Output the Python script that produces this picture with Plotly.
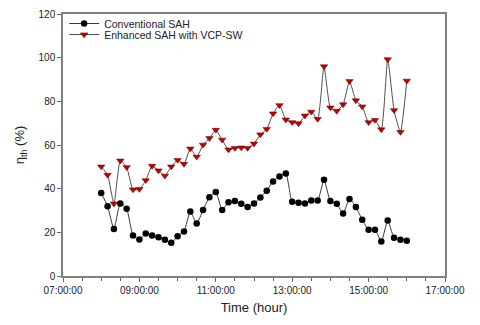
import plotly.graph_objects as go

day = "2021-06-01 "
times = [
    "08:00", "08:10", "08:20", "08:30", "08:40", "08:50",
    "09:00", "09:10", "09:20", "09:30", "09:40", "09:50",
    "10:00", "10:10", "10:20", "10:30", "10:40", "10:50",
    "11:00", "11:10", "11:20", "11:30", "11:40", "11:50",
    "12:00", "12:10", "12:20", "12:30", "12:40", "12:50",
    "13:00", "13:10", "13:20", "13:30", "13:40", "13:50",
    "14:00", "14:10", "14:20", "14:30", "14:40", "14:50",
    "15:00", "15:10", "15:20", "15:30", "15:40", "15:50",
    "16:00",
]
conventional = [
    38.0, 32.0, 21.5, 33.2, 30.8, 18.5,
    16.7, 19.5, 18.5, 17.7, 16.6, 15.2,
    18.2, 20.4, 29.5, 24.0, 30.2, 36.1,
    38.5, 30.2, 33.8, 34.3, 33.1, 31.6,
    33.2, 35.9, 39.1, 43.3, 45.6, 47.0,
    34.0, 33.5, 33.2, 34.6, 34.6, 44.1,
    34.3, 33.1, 28.6, 35.3, 31.6, 25.8,
    21.2, 21.2, 15.8, 25.4, 17.5, 16.6,
    16.2,
]
enhanced = [
    50.1, 46.3, 33.1, 52.8, 49.8, 39.6,
    39.8, 43.8, 50.4, 48.3, 45.9, 50.1,
    53.1, 51.3, 58.3, 54.6, 60.1, 63.1,
    66.9, 62.4, 57.9, 58.6, 58.8, 58.6,
    60.6, 64.8, 67.3, 74.4, 78.2, 71.6,
    70.4, 69.9, 73.4, 75.2, 71.9, 96.0,
    77.1, 75.6, 78.6, 89.2, 80.4, 77.6,
    70.4, 71.4, 67.1, 99.2, 75.9, 65.9,
    89.4,
]
x = [day + t for t in times]

fig = go.Figure()
fig.add_trace(go.Scatter(
    x=x, y=conventional, name="Conventional SAH", mode="lines+markers",
    line=dict(color="#3a3a3a", width=1, shape="spline", smoothing=0.5),
    marker=dict(symbol="circle", size=6.5, color="black"),
    legend="legend",
))
fig.add_trace(go.Scatter(
    x=x, y=enhanced, name="Enhanced SAH with VCP-SW", mode="lines+markers",
    line=dict(color="#505050", width=1, shape="spline", smoothing=0.5),
    marker=dict(symbol="triangle-down", size=6.5, color="#c00000",
                line=dict(color="#600000", width=0.5)),
    legend="legend2",
))

leg = dict(xanchor="left", yanchor="top", bgcolor="rgba(0,0,0,0)",
           font=dict(size=10.5), itemwidth=30)
fig.update_layout(
    width=480, height=325,
    margin=dict(l=63, r=35, t=9, b=49),
    paper_bgcolor="white", plot_bgcolor="white",
    font=dict(family="Liberation Sans, Arial, sans-serif", size=10, color="#222"),
    showlegend=True,
    legend=dict(leg, x=0.003, y=1.019),
    legend2=dict(leg, x=0.003, y=0.977),
)
fig.update_xaxes(
    range=[day + "07:00", day + "17:00"],
    tickformat="%H:%M:%S", dtick=7200000, tick0=day + "07:00",
    ticks="outside", ticklen=4, tickcolor="#666",
    minor=dict(dtick=1800000, ticks="outside", ticklen=3, tickcolor="#666"),
    showline=True, linecolor="#808080", linewidth=1.5, mirror=True,
    showgrid=False, zeroline=False, automargin=False,
    title=dict(text="Time (hour)", font=dict(size=13), standoff=8),
)
fig.update_yaxes(
    range=[0, 120], dtick=20,
    ticks="outside", ticklen=4, tickcolor="#666",
    showline=True, linecolor="#808080", linewidth=1.5, mirror=True,
    showgrid=False, zeroline=False, automargin=False,
    title=dict(text="η<sub>th</sub> (%)", font=dict(size=13), standoff=11),
)

fig.write_html("out.html", config={"displayModeBar": False},
               post_script="document.body.style.margin='0px';")
